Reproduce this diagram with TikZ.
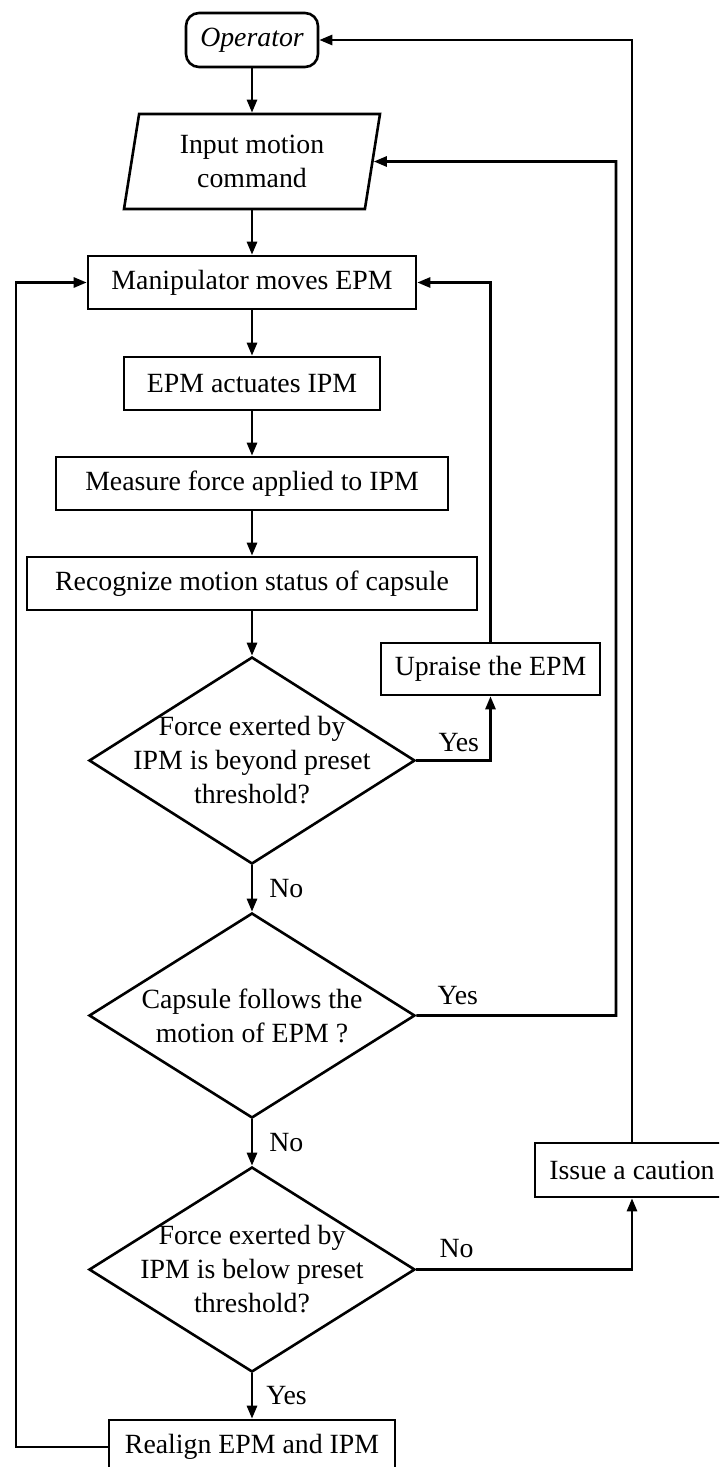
\documentclass[tikz,border=0pt]{standalone}
\usepackage{fontspec}
\setmainfont{Liberation Serif}
\usetikzlibrary{shapes.geometric,arrows.meta,calc}

\begin{document}
\begin{tikzpicture}[x=0.5pt, y=-0.5pt, >={Triangle[length=6.5pt,width=5pt]},
  every node/.style={font=\fontsize{13.9}{17}\selectfont, inner sep=0pt},
  box/.style={draw, line width=1.3pt, rectangle, minimum height=26.5pt, align=center},
  decide/.style={draw, line width=1.3pt, diamond, inner sep=-30pt, minimum width=163pt, align=center},
  flow/.style={->, line width=1.3pt}]
  \clip (0,0) rectangle (719,1467);

  % Start and input
  \node[draw, line width=1.3pt, rounded corners=6.5pt, minimum width=66pt, minimum height=27pt, font=\fontsize{13.9}{17}\selectfont\itshape] (oper) at (252,40) {Operator};
  \node[draw, line width=1.3pt, trapezium, trapezium left angle=74, trapezium right angle=106, trapezium stretches body=true, minimum width=128pt, minimum height=47.5pt, align=center] (input) at (252,161.5) {Input motion\\command};

  % Main column
  \node[box, minimum width=164pt] (manip) at (252,282.5) {Manipulator moves EPM};
  \node[box, minimum width=128pt] (act) at (252,383.5) {EPM actuates IPM};
  \node[box, minimum width=196pt] (meas) at (252,483.5) {Measure force applied to IPM};
  \node[box, minimum width=225pt] (recog) at (252,583.5) {Recognize motion status of capsule};

  % Decisions
  \node[decide, minimum height=103.5pt] (d1) at (252,760.5) {Force exerted by\\IPM is beyond preset\\threshold?};
  \node[decide, minimum height=102.5pt] (d2) at (252,1015.5) {Capsule follows the\\motion of EPM ?};
  \node[decide, minimum height=102.5pt] (d3) at (252,1269.5) {Force exerted by\\IPM is below preset\\threshold?};
  \node[box, minimum width=143pt, minimum height=27pt] (realign) at (252,1447) {Realign EPM and IPM};

  % Side actions
  \node[box, minimum width=109.5pt, minimum height=26pt] (upr) at (490.5,669) {Upraise the EPM};
  \node[box, minimum width=97pt, minimum height=27pt] (caut) at (632,1170) {Issue a caution};

  \coordinate (inR) at (616,161.5);
  \coordinate (lL) at (16,282.5);

  % Main flow
  \draw[flow] (oper.south) -- (oper.south |- input.north);
  \draw[flow] (input.south -| manip.north) -- (manip.north);
  \draw[flow] (manip.south) -- (act.north);
  \draw[flow] (act.south) -- (meas.north);
  \draw[flow] (meas.south) -- (recog.north);
  \draw[flow] (recog.south) -- (d1.north);
  \draw[flow] (d1.south) -- node[right=8pt] {No} (d2.north);
  \draw[flow] (d2.south) -- node[right=8pt] {No} (d3.north);
  \draw[flow] (d3.south) -- node[right=6.5pt] {Yes} (realign.north);

  % Feedback loops
  \draw[flow] (d1.east) node[anchor=south west, xshift=10.5pt, yshift=3.5pt] {Yes} -| (upr.south);
  \draw[flow] (upr.north) |- (manip.east);
  \draw[flow] (d2.east) node[anchor=south west, xshift=10pt, yshift=4.5pt] {Yes} -| (inR) -- (input.east);
  \draw[flow] (d3.east) node[anchor=south west, xshift=11pt, yshift=5pt] {No} -| (caut.south);
  \draw[flow] (caut.north) |- (oper.east);
  \draw[flow] (realign.west) -| (lL) -- (manip.west);
\end{tikzpicture}
\end{document}
